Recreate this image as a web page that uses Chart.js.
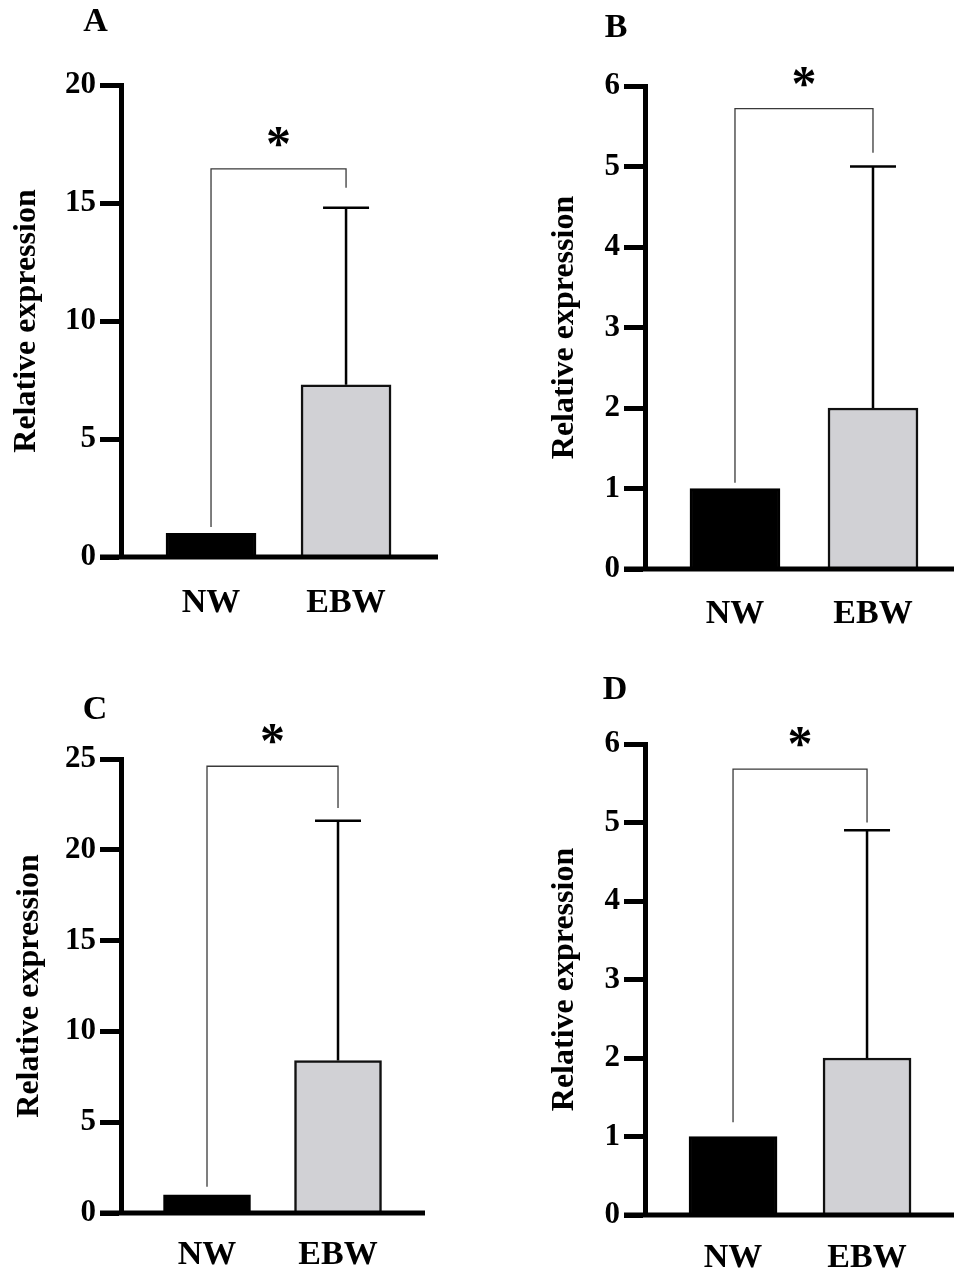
<!DOCTYPE html>
<html><head><meta charset="utf-8">
<script src="https://cdn.jsdelivr.net/npm/chart.js@4.4.1/dist/chart.umd.min.js"></script>
<style>
html,body{margin:0;padding:0;background:#fff;}
#wrap{position:relative;width:954px;height:1273px;overflow:hidden;background:#fff;}
canvas{position:absolute;}
</style></head><body>
<div id="wrap">
<canvas id="cA" width="477" height="640" style="left:0;top:0"></canvas>
<canvas id="cB" width="477" height="640" style="left:477px;top:0"></canvas>
<canvas id="cC" width="477" height="633" style="left:0;top:640px"></canvas>
<canvas id="cD" width="477" height="633" style="left:477px;top:640px"></canvas>
</div>
<script>
// ---- data ----
const categories = ['NW', 'EBW'];
const axisTitle = 'Relative expression';
const sigMark = '*';

const meanA = [1, 7.3];
const errA  = [0, 7.5];
const ticksA = [0, 5, 10, 15, 20];
const bracketA = [1.27, 16.45, 15.65]; // left foot, top, right foot

const meanB = [1, 2];
const errB  = [0, 3];
const ticksB = [0, 1, 2, 3, 4, 5, 6];
const bracketB = [1.07, 5.72, 5.17];

const meanC = [1, 8.4];
const errC  = [0, 13.2];
const ticksC = [0, 5, 10, 15, 20, 25];
const bracketC = [1.45, 24.6, 22.3];

const meanD = [1, 2];
const errD  = [0, 2.9];
const ticksD = [0, 1, 2, 3, 4, 5, 6];
const bracketD = [1.18, 5.68, 5.0];

// ---- style / layout ----
const FONT = "'Liberation Serif', 'Times New Roman', serif";
const colors = ['#000000', '#d1d1d5'];
const borders = ['#000000', '#111111'];

const panels = [
  { id: 'cA', letter: 'A', mean: meanA, err: errA, ticks: ticksA, bracket: bracketA,
    padLeft: 8, axisX: 121, top: 85, zero: 557, padRight: 39, h: 640,
    xmin: 0.3333, xmax: 2.681, bar: 90, xPad: 26, letterPos: [95.5, 22.5] },
  { id: 'cB', letter: 'B', mean: meanB, err: errB, ticks: ticksB, bracket: bracketB,
    padLeft: 69, axisX: 168, top: 86, zero: 569, padRight: 0, h: 640,
    xmin: 0.348, xmax: 2.587, bar: 90, xPad: 25, letterPos: [139, 28] },
  { id: 'cC', letter: 'C', mean: meanC, err: errC, ticks: ticksC, bracket: bracketC,
    padLeft: 11, axisX: 121, top: 119, zero: 573, padRight: 52, h: 633,
    xmin: 0.3435, xmax: 2.664, bar: 87, xPad: 22, letterPos: [95, 70] },
  { id: 'cD', letter: 'D', mean: meanD, err: errD, ticks: ticksD, bracket: bracketD,
    padLeft: 69, axisX: 168, top: 104, zero: 575, padRight: 0, h: 633,
    xmin: 0.343, xmax: 2.649, bar: 88, xPad: 23, letterPos: [138, 50] }
];

const annot = {
  id: 'annot',
  afterDatasetsDraw(chart, args, opts) {
    const p = opts.panel;
    const { ctx, chartArea } = chart;
    const xs = chart.scales.x, ys = chart.scales.y;
    ctx.save();
    // x axis line (extends under the y tick marks)
    const y0 = ys.getPixelForValue(0);
    ctx.strokeStyle = '#000';
    ctx.lineWidth = 5;
    ctx.beginPath();
    ctx.moveTo(chartArea.left - 21, y0);
    ctx.lineTo(chartArea.right, y0);
    ctx.stroke();
    // error bars
    p.mean.forEach((m, i) => {
      const e = p.err[i];
      if (!e) return;
      const x = xs.getPixelForValue(i + 1);
      const yt = ys.getPixelForValue(m);
      const ye = ys.getPixelForValue(m + e);
      ctx.lineWidth = 2.5;
      ctx.strokeStyle = '#000';
      ctx.beginPath();
      ctx.moveTo(x, yt); ctx.lineTo(x, ye);
      ctx.moveTo(x - 23, ye); ctx.lineTo(x + 23, ye);
      ctx.stroke();
    });
    // significance bracket
    const xl = xs.getPixelForValue(1), xr = xs.getPixelForValue(2);
    const [bl, bt, br] = p.bracket;
    const yt = ys.getPixelForValue(bt);
    ctx.lineWidth = 1.3;
    ctx.strokeStyle = '#3a3a3a';
    ctx.beginPath();
    ctx.moveTo(xl, ys.getPixelForValue(bl));
    ctx.lineTo(xl, yt);
    ctx.lineTo(xr, yt);
    ctx.lineTo(xr, ys.getPixelForValue(br));
    ctx.stroke();
    // asterisk
    ctx.fillStyle = '#000';
    ctx.font = 'bold 50px ' + FONT;
    ctx.textAlign = 'center';
    ctx.textBaseline = 'alphabetic';
    ctx.fillText(sigMark, (xl + xr) / 2, yt - 9);
    // panel letter
    ctx.font = 'bold 34px ' + FONT;
    ctx.textBaseline = 'middle';
    ctx.fillText(p.letter, p.letterPos[0], p.letterPos[1]);
    ctx.restore();
  }
};

panels.forEach(p => {
  new Chart(document.getElementById(p.id), {
    type: 'bar',
    data: {
      datasets: [{
        data: categories.map((c, i) => ({ x: i + 1, y: p.mean[i] })),
        backgroundColor: colors,
        borderColor: borders,
        borderWidth: 2.5,
        barThickness: p.bar
      }]
    },
    options: {
      responsive: false,
      animation: false,
      events: [],
      layout: { padding: { top: p.top, left: p.padLeft, right: p.padRight, bottom: 0 } },
      plugins: { legend: { display: false }, tooltip: { enabled: false }, annot: { panel: p } },
      scales: {
        x: {
          type: 'linear', min: p.xmin, max: p.xmax, offset: false,
          afterBuildTicks: s => { s.ticks = categories.map((c, i) => ({ value: i + 1 })); },
          ticks: {
            callback: v => categories[v - 1],
            font: { family: FONT, weight: 'bold', size: 34 },
            color: '#000', padding: p.xPad, autoSkip: false, maxRotation: 0
          },
          grid: { display: false, drawTicks: false, offset: false },
          border: { display: false },
          afterFit: s => { s.height = p.h - p.zero; }
        },
        y: {
          min: 0, max: p.ticks[p.ticks.length - 1],
          afterBuildTicks: s => { s.ticks = p.ticks.map(v => ({ value: v })); },
          ticks: { font: { family: FONT, weight: 'bold', size: 31 }, color: '#000', padding: 4 },
          grid: { drawOnChartArea: false, drawTicks: true, tickLength: 21, tickWidth: 5, tickColor: '#000' },
          border: { display: true, width: 5, color: '#000' },
          title: { display: true, text: axisTitle, color: '#000',
                   font: { family: FONT, weight: 'bold', size: 32 }, padding: { top: 0, bottom: 0 } },
          afterFit: s => { s.width = p.axisX - p.padLeft; }
        }
      }
    },
    plugins: [annot]
  });
});
</script>
</body></html>
